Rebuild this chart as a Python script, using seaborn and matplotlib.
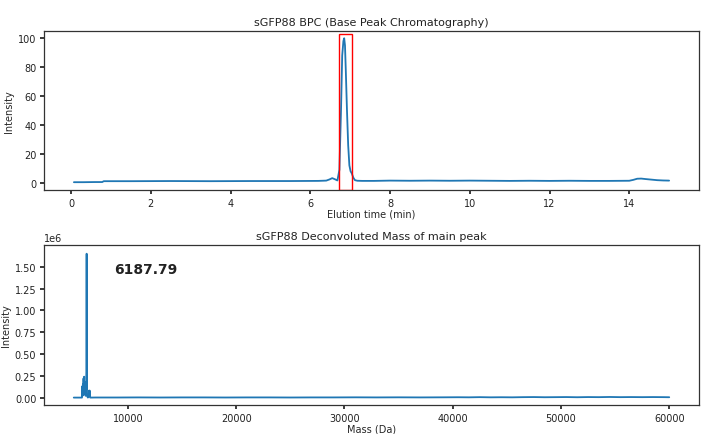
import numpy as np
import pandas as pd
import matplotlib
matplotlib.use("Agg")
import matplotlib.pyplot as plt
import seaborn as sns
from matplotlib.patches import Rectangle

# ---- BPC chromatogram data ----
bpc_time = [0.07, 0.3, 0.6, 0.78, 0.82, 1.5, 2.5, 3.5, 4.5, 5.5, 6.2, 6.4, 6.48, 6.55,
            6.62, 6.68, 6.73, 6.77, 6.80, 6.83, 6.85, 6.87, 6.89, 6.92, 6.95, 6.98,
            7.01, 7.04, 7.08, 7.12, 7.18, 7.3, 7.6, 8.0, 8.5, 9.0, 9.5, 10.0, 10.5,
            11.0, 11.5, 12.0, 12.5, 13.0, 13.5, 14.0, 14.1, 14.2, 14.3, 14.4, 14.55,
            14.7, 14.85, 15.0]
bpc_int = [0.4, 0.4, 0.5, 0.5, 1.1, 1.1, 1.2, 1.1, 1.2, 1.2, 1.3, 1.5, 2.3, 3.2,
           2.4, 1.6, 9.0, 50.0, 88.0, 98.0, 100.0, 95.0, 78.0, 50.0, 26.0, 12.0,
           8.0, 6.5, 3.5, 1.8, 1.4, 1.3, 1.3, 1.5, 1.4, 1.5, 1.4, 1.5, 1.4,
           1.3, 1.4, 1.3, 1.4, 1.3, 1.3, 1.4, 2.0, 2.8, 2.9, 2.6, 2.2,
           1.8, 1.6, 1.5]

# ---- Deconvoluted mass data ----
mass_da = [5000, 5500, 5760, 5790, 5810, 5840, 5870, 5900, 5930, 5960, 5990,
           6020, 6060, 6100, 6150, 6170, 6187.79, 6205, 6230, 6300, 6380,
           6410, 6440, 6470, 6520, 7000, 9000, 11000, 13000, 15000, 17000,
           19000, 21000, 23000, 25000, 27000, 29000, 31000, 33000, 35000,
           37000, 39000, 40500, 41500, 42500, 43500, 44500, 45500, 46500,
           47500, 48500, 49500, 50500, 51500, 52500, 53500, 54500, 55500,
           56500, 57500, 58500, 59500, 60000]
mass_int = [0.0, 0.0, 0.0, 0.13, 0.02, 0.15, 0.03, 0.22, 0.05, 0.24, 0.04,
            0.18, 0.03, 0.02, 0.10, 0.30, 1.65, 0.25, 0.02, 0.0, 0.01,
            0.08, 0.02, 0.08, 0.0, 0.001, 0.001, 0.002, 0.001, 0.002, 0.002,
            0.001, 0.002, 0.002, 0.001, 0.002, 0.002, 0.003, 0.002, 0.003,
            0.002, 0.003, 0.004, 0.003, 0.005, 0.003, 0.004, 0.003, 0.005,
            0.006, 0.004, 0.005, 0.006, 0.004, 0.006, 0.005, 0.007, 0.005,
            0.006, 0.005, 0.006, 0.005, 0.004]
mass_scale = 1e6

peak_label = "6187.79"
box_t0, box_t1 = 6.72, 7.05

sns.set_theme(style="ticks")
plt.rcParams["font.family"] = ["DejaVu Sans"]
plt.rcParams.update({
    "axes.edgecolor": "#333333",
    "axes.linewidth": 0.9,
    "xtick.labelsize": 7,
    "ytick.labelsize": 7,
    "xtick.major.size": 3,
    "ytick.major.size": 3,
    "xtick.major.pad": 2.5,
    "ytick.major.pad": 2.5,
    "text.color": "#222222",
    "xtick.color": "#222222",
    "ytick.color": "#222222",
})

fig = plt.figure(figsize=(7.06, 4.35), dpi=100)
W, H = 706, 435
ax1 = fig.add_axes([44 / W, 1 - 191 / H, 655 / W, 159 / H])
ax2 = fig.add_axes([44 / W, 1 - 406 / H, 655 / W, 160 / H])

blue = "#1f77b4"
df1 = pd.DataFrame({"t": bpc_time, "i": bpc_int})
sns.lineplot(data=df1, x="t", y="i", ax=ax1, color=blue, lw=1.3, estimator=None)
ax1.set_xlim(-0.68, 15.75)
ax1.set_ylim(-5, 105)
ax1.set_xticks([0, 2, 4, 6, 8, 10, 12, 14])
ax1.set_yticks([0, 20, 40, 60, 80, 100])
ax1.set_title("sGFP88 BPC (Base Peak Chromatography)", fontsize=8, pad=4)
ax1.set_xlabel("Elution time (min)", fontsize=7, labelpad=0.5)
ax1.set_ylabel("Intensity", fontsize=7, labelpad=3)
ax1.add_patch(Rectangle((box_t0, -4.8), box_t1 - box_t0, 107.5,
                        fill=False, edgecolor="red", lw=1.0, zorder=5))

df2 = pd.DataFrame({"m": mass_da, "i": [v * mass_scale for v in mass_int]})
sns.lineplot(data=df2, x="m", y="i", ax=ax2, color=blue, lw=1.3, estimator=None)
ax2.set_xlim(2250, 62750)
ax2.set_ylim(-0.085e6, 1.75e6)
ax2.set_xticks([10000, 20000, 30000, 40000, 50000, 60000])
ax2.set_yticks([0, 0.25e6, 0.5e6, 0.75e6, 1.0e6, 1.25e6, 1.5e6])
ax2.ticklabel_format(axis="y", style="sci", scilimits=(6, 6))
ax2.yaxis.get_offset_text().set_fontsize(7)
ax2.set_title("sGFP88 Deconvoluted Mass of main peak", fontsize=8, pad=4)
ax2.set_xlabel("Mass (Da)", fontsize=7, labelpad=0.5)
ax2.set_ylabel("Intensity", fontsize=7, labelpad=3)
ax2.text(8700, 1.47e6, peak_label, fontsize=10, fontweight="bold",
         va="center", ha="left")

for ax in (ax1, ax2):
    for s in ax.spines.values():
        s.set_visible(True)

fig.savefig("out.png", dpi=100)
